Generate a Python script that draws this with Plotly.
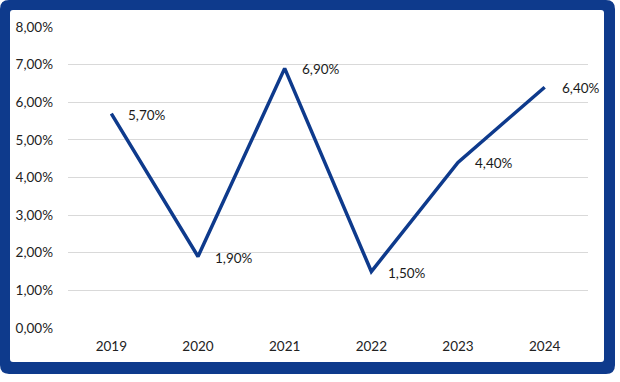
import plotly.graph_objects as go

years = ["2019", "2020", "2021", "2022", "2023", "2024"]
values = [0.057, 0.019, 0.069, 0.015, 0.044, 0.064]
y_ticks = [0, 0.01, 0.02, 0.03, 0.04, 0.05, 0.06, 0.07, 0.08]

BLUE = "#0E3A8C"
W, H = 620, 382
L, R, T, B = 68, 32, 27, 54
pw, ph = W - L - R, H - T - B

def px(x):
    return (x - L) / pw

def py(y):
    return (H - B - y) / ph

def rounded(x0, y0, x1, y1, r):
    def P(x, y):
        return f"{px(x):.5f},{py(y):.5f}"
    return (f"M {P(x0 + r, y0)} L {P(x1 - r, y0)} Q {P(x1, y0)} {P(x1, y0 + r)} "
            f"L {P(x1, y1 - r)} Q {P(x1, y1)} {P(x1 - r, y1)} "
            f"L {P(x0 + r, y1)} Q {P(x0, y1)} {P(x0, y1 - r)} "
            f"L {P(x0, y0 + r)} Q {P(x0, y0)} {P(x0 + r, y0)} Z")

idx = list(range(len(years)))

fig = go.Figure()
fig.add_trace(go.Scatter(
    x=idx, y=values, mode="lines",
    line=dict(color=BLUE, width=3.5),
    hoverinfo="skip", showlegend=False,
))

for i, v in zip(idx, values):
    fig.add_annotation(
        x=i, y=v, text=f"{v*100:.2f}%".replace(".", ","),
        showarrow=False, xanchor="left", yanchor="middle",
        xshift=15, yshift=-1,
        font=dict(family="Lato", size=13.5, color="#1a1a1a"),
    )

fig.add_shape(type="path", xref="paper", yref="paper",
              path=rounded(0, 0, 615, 374, 9),
              fillcolor=BLUE, line=dict(width=0), layer="below")
fig.add_shape(type="path", xref="paper", yref="paper",
              path=rounded(10, 10, 604, 362, 3),
              fillcolor="white", line=dict(width=0), layer="below")

fig.update_layout(
    width=W, height=H,
    margin=dict(l=L, r=R, t=T, b=B),
    paper_bgcolor="white", plot_bgcolor="rgba(0,0,0,0)",
    font=dict(family="Lato", size=13.5, color="#222222"),
    xaxis=dict(
        range=[-0.5, len(years) - 0.5], tickvals=idx, ticktext=years,
        showgrid=False, zeroline=False, showline=False,
        ticks="", ticklabelstandoff=8,
    ),
    yaxis=dict(
        range=[0, 0.08], tickvals=y_ticks,
        ticktext=[f"{t*100:.2f}%".replace(".", ",") for t in y_ticks],
        showgrid=True, gridcolor="#D9D9D9", gridwidth=1,
        zeroline=False, showline=False, ticks="", ticklabelstandoff=14,
    ),
)

fig.write_html("out.html", config={"displayModeBar": False},
               post_script="document.body.style.margin='0';document.body.style.padding='0';")
